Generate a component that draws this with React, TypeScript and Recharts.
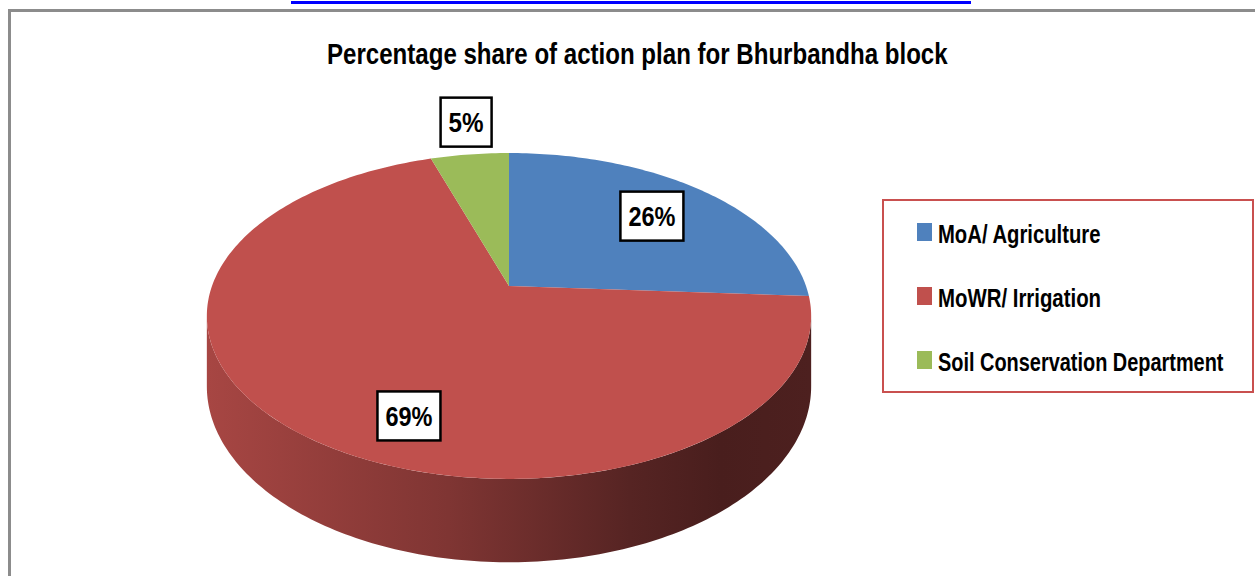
import React from 'react'
import { PieChart, Pie, Legend } from 'recharts'

const W = 1255
const H = 576

const CATEGORIES = ['MoA/ Agriculture', 'MoWR/ Irrigation', 'Soil Conservation Department']
const SHARES = [26, 69, 5]
const COLORS = ['#4f81bd', '#c0504d', '#9bbb59']

// where each data label sits: fraction of radius + small angular nudge (deg)
const LABEL_RADIUS = [0.713, 0.774, 1.3]
const LABEL_SHIFT = [0.5, -15.6, 1.1]

const data = CATEGORIES.map((name, i) => ({ name, value: SHARES[i], fill: COLORS[i] }))

// fake 3D: tilted disc seen with some perspective
const PERSPECTIVE = 0.184
const TILT = 0.53
const DEPTH = 68
const SIDE_FROM = 100.6
const SIDE_TO = 259.4
const FONT = '"Liberation Sans", Arial, sans-serif'

let ctx: CanvasRenderingContext2D | null = null
function textWidth(str: string, size: number) {
  if (!ctx) ctx = document.createElement('canvas').getContext('2d')
  if (!ctx) return str.length * size * 0.6
  ctx.font = `bold ${size}px ${FONT}`
  return ctx.measureText(str).width
}

// the original uses a narrow, tall face: squeeze a bold sans to the measured width
function Narrow({ x, y, width, size, children }: { x: number; y: number; width: number; size: number; children: string }) {
  const sx = width / textWidth(children, size)
  return (
    <text
      transform={`translate(${x},${y}) scale(${sx.toFixed(4)},1)`}
      fontFamily={FONT}
      fontWeight="bold"
      fontSize={size}
      fill="#000"
    >
      {children}
    </text>
  )
}

function project(cx: number, cy: number, r: number, phiDeg: number, f = 1, h = 0) {
  const phi = (phiDeg * Math.PI) / 180
  const u = Math.sin(phi) * f
  const v = -Math.cos(phi) * f
  const s = 1 / (1 - PERSPECTIVE * v)
  return [cx + r * u * s, cy + (r * TILT * v + h) * s]
}

function arcPoints(cx: number, cy: number, r: number, a: number, b: number, h = 0) {
  const pts: number[][] = []
  const n = Math.max(2, Math.ceil(Math.abs(b - a)))
  for (let i = 0; i <= n; i++) pts.push(project(cx, cy, r, a + ((b - a) * i) / n, 1, h))
  return pts
}

const toPath = (pts: number[][]) => pts.map((p, i) => `${i ? 'L' : 'M'}${p[0].toFixed(2)},${p[1].toFixed(2)}`).join(' ')

function shade(hex: string, k: number) {
  const n = parseInt(hex.slice(1), 16)
  const c = [(n >> 16) & 255, (n >> 8) & 255, n & 255].map((x) => Math.round(x * k))
  return `rgb(${c.join(',')})`
}

function renderSlice(props: any) {
  const { cx, cy, outerRadius, startAngle, endAngle, fill } = props
  const a = 90 - startAngle
  const b = 90 - endAngle
  const idx = COLORS.indexOf(fill)
  const top = toPath([[cx, cy], ...arcPoints(cx, cy, outerRadius, a, b)]) + ' Z'
  const s0 = Math.max(a, SIDE_FROM)
  const s1 = Math.min(b, SIDE_TO)
  let side = ''
  if (s1 > s0) {
    const up = arcPoints(cx, cy, outerRadius, s0, s1)
    const down = arcPoints(cx, cy, outerRadius, s1, s0, DEPTH)
    side = toPath([...up, ...down]) + ' Z'
  }
  return (
    <g>
      {side && <path d={side} fill={`url(#side-${idx < 0 ? 1 : idx})`} stroke="none" />}
      <path d={top} fill={fill} stroke="none" />
    </g>
  )
}

function renderLabel(props: any) {
  const { cx, cy, outerRadius, midAngle, index, value } = props
  const phi = 90 - midAngle + LABEL_SHIFT[index]
  const [x, y] = project(cx, cy, outerRadius, phi, LABEL_RADIUS[index])
  const text = `${Math.round(value)}%`
  const len = 12 * text.length + 11
  const bw = len + 16
  const bh = 49
  return (
    <g>
      <rect x={x - bw / 2} y={y - bh / 2} width={bw} height={bh} fill="#fff" stroke="#000" strokeWidth={2.5} />
      <Narrow x={x - len / 2} y={y + 10} width={len} size={28}>
        {text}
      </Narrow>
    </g>
  )
}

function LegendBox({ payload }: any) {
  return (
    <svg width={372} height={194} style={{ display: 'block' }}>
      <rect x={1} y={1} width={370} height={192} fill="#fff" stroke="#c9504f" strokeWidth={2} />
      {CATEGORIES.map((name, i) => {
        const label = String(payload?.[i]?.value ?? name)
        const color = payload?.[i]?.color ?? COLORS[i]
        const base = 44 + i * 64
        return (
          <g key={name}>
            <rect x={35} y={base - 20} width={15} height={18} fill={color} />
            <Narrow x={56} y={base} width={label.length * 10.2} size={25}>
              {label}
            </Narrow>
          </g>
        )
      })}
    </svg>
  )
}

export default function App() {
  return (
    <div style={{ position: 'absolute', left: 0, top: 0, width: W, height: H, background: '#fff', overflow: 'hidden' }}>
      <svg width={W} height={H} style={{ position: 'absolute', left: 0, top: 0 }}>
        <defs>
          {COLORS.map((c, i) => (
            <linearGradient key={c} id={`side-${i}`} gradientUnits="userSpaceOnUse" x1={207} y1={0} x2={811} y2={0}>
              <stop offset="0" stopColor={shade(c, 0.87)} />
              <stop offset="0.4" stopColor={shade(c, 0.66)} />
              <stop offset="0.7" stopColor={shade(c, 0.45)} />
              <stop offset="0.85" stopColor={shade(c, 0.38)} />
              <stop offset="1" stopColor={shade(c, 0.4)} />
            </linearGradient>
          ))}
        </defs>
        <rect x={291} y={1} width={680} height={3} fill="#0000ff" />
        <rect x={8} y={9} width={W - 8} height={3} fill="#8c8c8c" />
        <rect x={8} y={9} width={3} height={H - 9} fill="#8c8c8c" />
        <Narrow x={327} y={64} width={621} size={29}>
          Percentage share of action plan for Bhurbandha block
        </Narrow>
      </svg>
      <div style={{ position: 'absolute', left: 0, top: 0 }}>
        <PieChart width={W} height={H} margin={{ top: 0, right: 0, bottom: 0, left: 0 }}>
          <Pie
            data={data}
            dataKey="value"
            nameKey="name"
            cx={509}
            cy={286}
            outerRadius={297}
            startAngle={90}
            endAngle={-270}
            stroke="none"
            isAnimationActive={false}
            labelLine={false}
            label={renderLabel}
            shape={renderSlice}
            activeShape={renderSlice}
            inactiveShape={renderSlice}
          />
          <Legend
            layout="vertical"
            verticalAlign="top"
            align="right"
            wrapperStyle={{ position: 'absolute', left: 882, top: 199, width: 372, height: 194 }}
            content={(p: any) => <LegendBox payload={p.payload} />}
          />
        </PieChart>
      </div>
    </div>
  )
}
